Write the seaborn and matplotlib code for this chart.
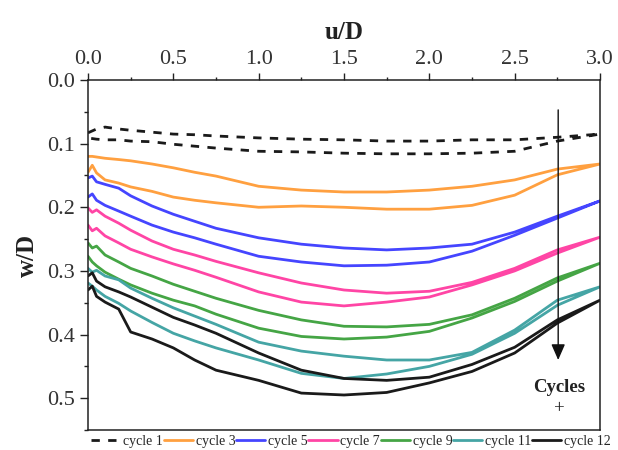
import numpy as np
import pandas as pd
import matplotlib
matplotlib.use("Agg")
import matplotlib.pyplot as plt
import seaborn as sns

# ---- data ----
u_grid = [0, 0.025, 0.05, 0.1, 0.18, 0.25, 0.375, 0.5, 0.625, 0.75, 1.0, 1.25,
          1.5, 1.75, 2.0, 2.25, 2.5, 2.75, 3.0]

cycles = ["cycle 1", "cycle 3", "cycle 5", "cycle 7", "cycle 9", "cycle 11", "cycle 12"]

c1_upper = [0.083, 0.080, 0.077, 0.074, 0.077, 0.079, 0.082, 0.085, 0.086, 0.088, 0.091, 0.093, 0.094, 0.096, 0.096, 0.094, 0.094, 0.090, 0.085]
c1_lower = [0.091, 0.092, 0.093, 0.094, 0.094, 0.096, 0.097, 0.101, 0.104, 0.107, 0.112, 0.113, 0.115, 0.116, 0.116, 0.115, 0.112, 0.096, 0.085]

c3_upper = [0.120, 0.120, 0.121, 0.123, 0.125, 0.127, 0.132, 0.138, 0.145, 0.151, 0.167, 0.173, 0.176, 0.176, 0.173, 0.167, 0.157, 0.140, 0.132]
c3_lower = [0.145, 0.134, 0.146, 0.157, 0.162, 0.168, 0.175, 0.184, 0.189, 0.193, 0.200, 0.198, 0.200, 0.203, 0.203, 0.197, 0.181, 0.149, 0.132]

c5_upper = [0.154, 0.151, 0.160, 0.164, 0.170, 0.182, 0.198, 0.211, 0.222, 0.233, 0.248, 0.258, 0.264, 0.267, 0.264, 0.258, 0.239, 0.214, 0.190]
c5_lower = [0.184, 0.179, 0.189, 0.197, 0.206, 0.214, 0.228, 0.239, 0.248, 0.258, 0.277, 0.286, 0.292, 0.291, 0.286, 0.269, 0.244, 0.217, 0.190]

c7_upper = [0.201, 0.208, 0.204, 0.214, 0.225, 0.236, 0.253, 0.266, 0.275, 0.285, 0.303, 0.319, 0.330, 0.335, 0.332, 0.318, 0.296, 0.267, 0.247]
c7_lower = [0.228, 0.237, 0.233, 0.245, 0.256, 0.266, 0.278, 0.289, 0.299, 0.310, 0.333, 0.349, 0.355, 0.349, 0.341, 0.322, 0.300, 0.272, 0.247]

c9_upper = [0.256, 0.264, 0.261, 0.275, 0.286, 0.296, 0.308, 0.321, 0.332, 0.343, 0.362, 0.377, 0.387, 0.388, 0.384, 0.369, 0.343, 0.311, 0.288]
c9_lower = [0.277, 0.286, 0.292, 0.302, 0.313, 0.322, 0.335, 0.346, 0.355, 0.368, 0.390, 0.403, 0.407, 0.404, 0.395, 0.374, 0.348, 0.316, 0.288]

c11_upper = [0.296, 0.302, 0.299, 0.308, 0.314, 0.327, 0.343, 0.358, 0.371, 0.384, 0.412, 0.426, 0.434, 0.440, 0.440, 0.428, 0.393, 0.346, 0.325]
c11_lower = [0.319, 0.324, 0.330, 0.340, 0.351, 0.363, 0.381, 0.398, 0.410, 0.421, 0.440, 0.461, 0.469, 0.462, 0.450, 0.431, 0.398, 0.354, 0.325]

c12_upper = [0.308, 0.303, 0.316, 0.325, 0.333, 0.341, 0.357, 0.373, 0.385, 0.398, 0.429, 0.456, 0.469, 0.472, 0.467, 0.447, 0.420, 0.377, 0.346]
c12_lower = [0.330, 0.324, 0.340, 0.349, 0.360, 0.396, 0.407, 0.421, 0.440, 0.456, 0.472, 0.492, 0.495, 0.491, 0.476, 0.458, 0.429, 0.382, 0.346]

uppers = [c1_upper, c3_upper, c5_upper, c7_upper, c9_upper, c11_upper, c12_upper]
lowers = [c1_lower, c3_lower, c5_lower, c7_lower, c9_lower, c11_lower, c12_lower]

colors = ["#1a1a1a", "#FFA040", "#4545FF", "#FF45A5", "#45A545", "#45A5A5", "#1a1a1a"]

x_ticks = [0.0, 0.5, 1.0, 1.5, 2.0, 2.5, 3.0]
y_ticks = [0.0, 0.1, 0.2, 0.3, 0.4, 0.5]

arrow_u = 2.755
arrow_w_start = 0.047
arrow_w_end = 0.440

# ---- build long table: each cycle drawn as a loop (upper out, lower back) ----
rows = []
for name, up, lo in zip(cycles, uppers, lowers):
    path_u = list(u_grid) + list(u_grid[::-1])
    path_w = list(up) + list(lo[::-1])
    for i, (uu, ww) in enumerate(zip(path_u, path_w)):
        rows.append({"cycle": name, "u": uu, "w": ww, "order": i})
df = pd.DataFrame(rows)

sns.set_theme(style="ticks")
plt.rcParams["font.family"] = ["Liberation Serif", "DejaVu Serif"]
plt.rcParams["axes.linewidth"] = 1.1

fig = plt.figure(figsize=(6.18, 4.5), dpi=100)
ax = fig.add_axes([88 / 618, 1 - 430 / 450, 512 / 618, 350 / 450])

dash_map = {c: "" for c in cycles}
dash_map["cycle 1"] = (3, 3)

sns.lineplot(data=df, x="u", y="w", hue="cycle", style="cycle",
             hue_order=cycles, style_order=cycles,
             palette=dict(zip(cycles, colors)), dashes=dash_map,
             sort=False, estimator=None, linewidth=2.0, legend=False, ax=ax)

ax.set_xlim(0, 3.0)
ax.set_ylim(0.55, 0.0)
ax.xaxis.tick_top()
ax.xaxis.set_label_position("top")
ax.set_xticks(x_ticks)
ax.set_xticklabels([f"{v:.1f}" for v in x_ticks])
ax.set_yticks(y_ticks)
ax.set_yticklabels([f"{v:.1f}" for v in y_ticks])
ax.xaxis.set_minor_locator(matplotlib.ticker.MultipleLocator(0.25))
ax.yaxis.set_minor_locator(matplotlib.ticker.MultipleLocator(0.05))
ax.tick_params(axis="x", which="major", direction="out", length=5, width=1.0,
               labelsize=16, pad=3, top=True, bottom=False, colors="#222222")
ax.tick_params(axis="x", which="minor", direction="out", length=2.5, width=1.0,
               top=True, bottom=False, colors="#222222")
ax.tick_params(axis="y", which="major", direction="out", length=5.5, width=1.0,
               labelsize=16, pad=4, left=True, right=False, colors="#222222")
ax.tick_params(axis="y", which="minor", direction="out", length=3, width=1.0,
               left=True, right=False, colors="#222222")
ax.tick_params(labelcolor="#333333")
for s in ax.spines.values():
    s.set_visible(True)
    s.set_color("#222222")
    s.set_linewidth(1.1)

ax.set_xlabel("u/D", fontsize=18, fontweight="bold", labelpad=8, color="#222222")
ax.set_ylabel("w/D", fontsize=18, fontweight="bold", labelpad=6, color="#222222")
ax.grid(False)

# arrow indicating increasing cycles
ax.annotate("", xy=(arrow_u, arrow_w_end), xytext=(arrow_u, arrow_w_start),
            arrowprops=dict(arrowstyle="-|>,head_width=0.35,head_length=0.8",
                            color="#111111", lw=1.0, shrinkA=0, shrinkB=0))
ax.text(arrow_u + 0.005, 0.483, "Cycles", ha="center", va="center",
        fontsize=13.5, fontweight="bold", color="#222222")
ax.text(arrow_u + 0.005, 0.517, "+", ha="center", va="center",
        fontsize=13.5, color="#222222")

handles = ax.get_lines()[:len(cycles)]
fig.legend(handles, cycles, loc="center", bbox_to_anchor=(351 / 618, 1 - 441 / 450),
           ncol=7, frameon=False, fontsize=10, handlelength=2.1,
           handletextpad=0.2, columnspacing=0.05, borderaxespad=0, borderpad=0)

fig.savefig("out.png", dpi=100)
